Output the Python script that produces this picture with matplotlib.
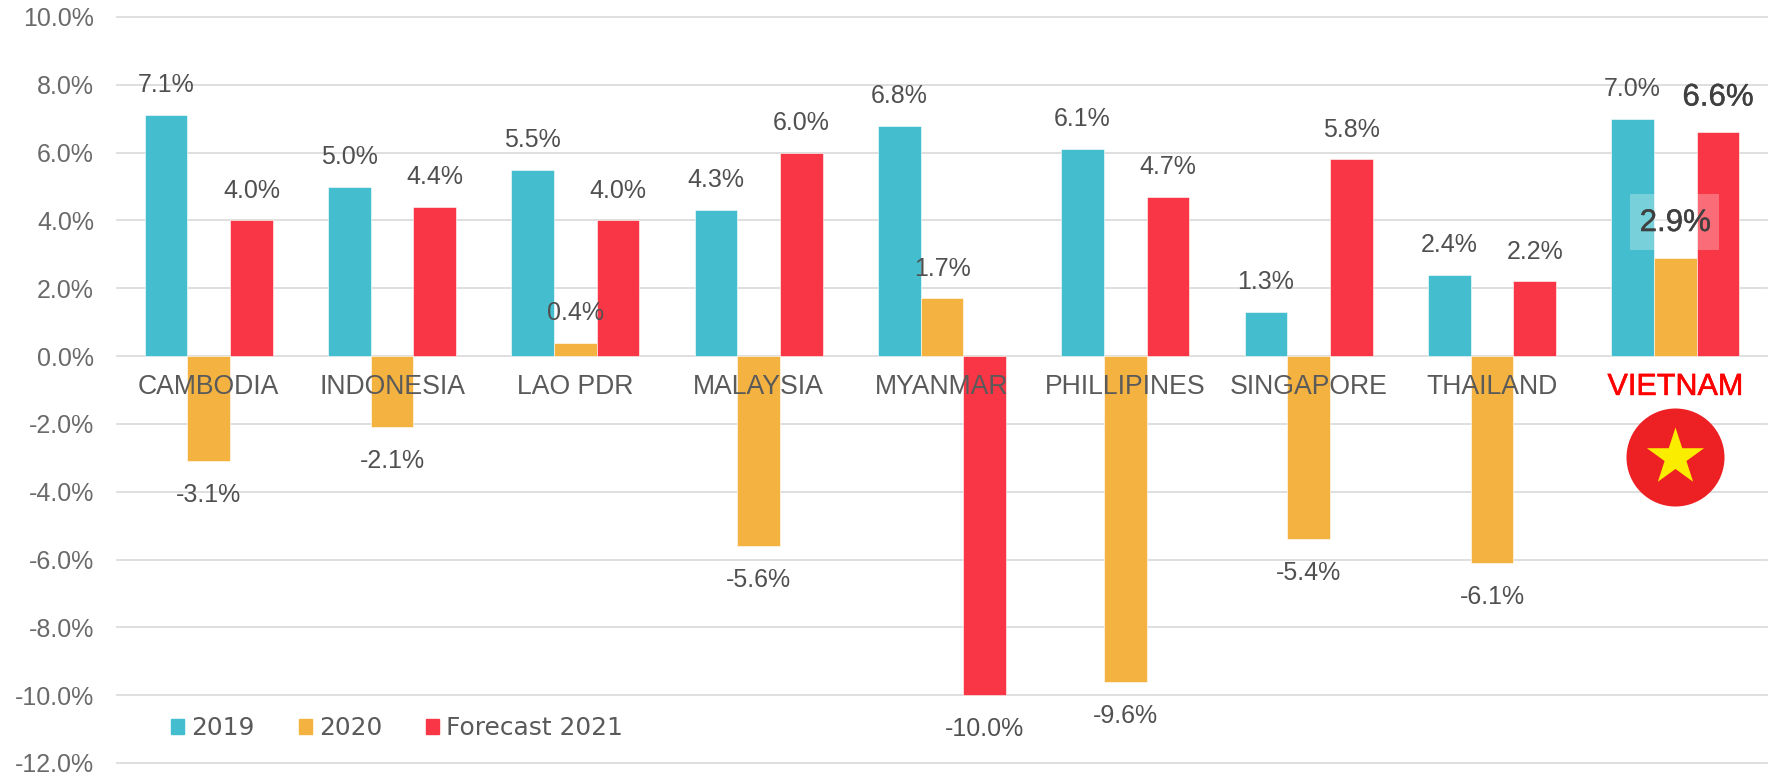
import matplotlib
matplotlib.use('Agg')
import matplotlib.pyplot as plt
import matplotlib.patheffects as pe
from matplotlib.patches import Rectangle, Patch

plt.rcParams['font.family'] = ['Liberation Sans', 'DejaVu Sans']

countries = ['CAMBODIA', 'INDONESIA', 'LAO PDR', 'MALAYSIA', 'MYANMAR',
             'PHILLIPINES', 'SINGAPORE', 'THAILAND', 'VIETNAM']
y2019 = [7.1, 5.0, 5.5, 4.3, 6.8, 6.1, 1.3, 2.4, 7.0]
y2020 = [-3.1, -2.1, 0.4, -5.6, 1.7, -9.6, -5.4, -6.1, 2.9]
y2021 = [4.0, 4.4, 4.0, 6.0, -10.0, 4.7, 5.8, 2.2, 6.6]
yticks = [10, 8, 6, 4, 2, 0, -2, -4, -6, -8, -10, -12]

series = [('2019', y2019, '#44BECE'), ('2020', y2020, '#F4B340'), ('Forecast 2021', y2021, '#F93645')]
GREY = '#6A6A6A'
DARK = '#505050'
W = 1775
H = 772

fig = plt.figure(figsize=(W / 100, H / 100), dpi=100)
ax = fig.add_axes([117 / W, 1 - 763 / H, 1650 / W, 746 / H])

bw = 0.233
for k, (name, vals, col) in enumerate(series):
    xs = [i + (k - 1) * bw for i in range(len(countries))]
    ax.bar(xs, vals, bw, color=col, edgecolor='white', linewidth=0.4, zorder=3, label=name)
    for i, (x, v) in enumerate(zip(xs, vals)):
        big = i == 8 and k > 0
        off = 25 if big else 21.5
        if v < 0:
            off = -24.5
        t = ax.annotate(f'{v:.1f}%', (x, v), xytext=(0, off), textcoords='offset points',
                        ha='center', va='center', color='#404040' if big else DARK, zorder=6,
                        fontsize=22.5 if big else 18)
        if big:
            t.set_path_effects([pe.withStroke(linewidth=0.3, foreground='#404040')])

# white box behind the 2.9% label
ax.add_patch(Rectangle((7.75, 3.13), 0.49, 1.65, fc='white', ec='none', alpha=0.28, zorder=5))

for i, c in enumerate(countries):
    if c == 'VIETNAM':
        t = ax.text(i, -0.91, c, ha='center', va='center', fontsize=22, color='#FF0000', zorder=6)
        t.set_path_effects([pe.withStroke(linewidth=0.4, foreground='#FF0000')])
    else:
        ax.text(i, -0.91, c, ha='center', va='center', fontsize=19.2, color='#5A5A5A', zorder=6)

# flag under Vietnam
ax.scatter([8], [-2.98], s=4980, color='#ED2024', linewidths=0, zorder=6)
ax.scatter([8], [-2.97], s=1870, marker='*', color='#FBED00', linewidths=0, zorder=7)

ax.set_xlim(-0.5, 8.5)
ax.set_ylim(-12, 10)
ax.set_xticks([])
ax.set_yticks(yticks)
ax.set_yticklabels([f'{t:.1f}%' for t in yticks], fontsize=18, color=GREY)
ax.tick_params(axis='y', length=0, pad=16.5)
ax.grid(axis='y', color='#D9D9D9', linewidth=1.2, zorder=0)
ax.set_axisbelow(True)
for s in ax.spines.values():
    s.set_visible(False)
for line in ax.get_ygridlines():
    line.set_clip_on(False)

handles = [Patch(color=c, label=n) for n, v, c in series]
ax.legend(handles=handles, loc='center left', bbox_to_anchor=(54 / 1650, 35 / 746), ncol=3, frameon=False,
          prop={'family': 'DejaVu Sans', 'size': 17.9}, labelcolor='#5A5A5A',
          handlelength=0.54, handleheight=0.565, handletextpad=0.27,
          columnspacing=1.77, borderaxespad=0, borderpad=0)

fig.savefig('out.png', dpi=100)
